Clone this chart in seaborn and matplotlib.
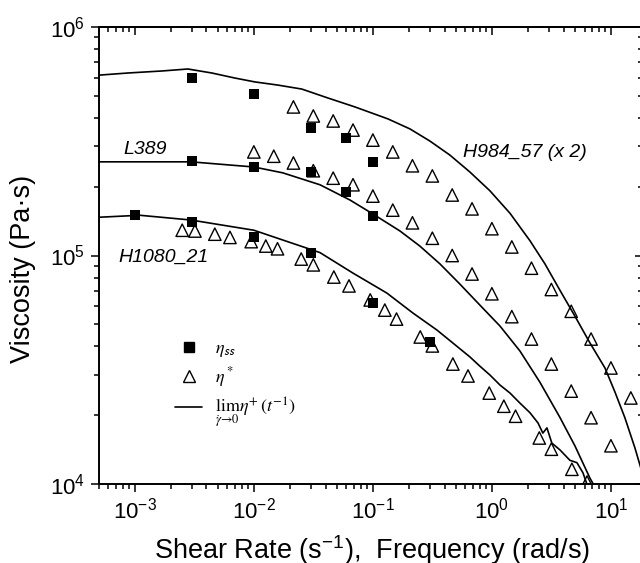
import matplotlib.pyplot as plt
import pandas as pd
import seaborn as sns
from matplotlib.lines import Line2D

# steady shear viscosity (filled squares)
ss_rate_h984 = [0.003, 0.01, 0.03, 0.06, 0.1]
ss_eta_h984 = [6.0e5, 5.1e5, 3.6e5, 3.27e5, 2.57e5]
ss_rate_l389 = [0.003, 0.01, 0.03, 0.06, 0.1]
ss_eta_l389 = [2.6e5, 2.44e5, 2.32e5, 1.9e5, 1.49e5]
ss_rate_h1080 = [0.001, 0.003, 0.01, 0.03, 0.1, 0.3]
ss_eta_h1080 = [1.5e5, 1.4e5, 1.2e5, 1.03e5, 6.2e4, 4.18e4]

# complex viscosity (open triangles)
freq_h984 = [0.0215, 0.0316, 0.0464, 0.0681, 0.1, 0.147, 0.215, 0.316, 0.464,
             0.681, 1.0, 1.47, 2.15, 3.16, 4.64, 6.81, 10.0, 14.7]
eta_h984 = [4.47e5, 4.08e5, 3.88e5, 3.54e5, 3.20e5, 2.84e5, 2.47e5, 2.23e5, 1.84e5,
            1.60e5, 1.31e5, 1.09e5, 8.8e4, 7.1e4, 5.7e4, 4.31e4, 3.22e4, 2.38e4]
freq_l389 = [0.01, 0.0147, 0.0215, 0.0316, 0.0464, 0.0681, 0.1, 0.147, 0.215, 0.316,
             0.464, 0.681, 1.0, 1.47, 2.15, 3.16, 4.64, 6.81, 10.0]
eta_l389 = [2.84e5, 2.72e5, 2.54e5, 2.35e5, 2.18e5, 2.04e5, 1.82e5, 1.58e5, 1.39e5, 1.19e5,
            1.00e5, 8.3e4, 6.8e4, 5.4e4, 4.31e4, 3.35e4, 2.55e4, 1.95e4, 1.47e4]
freq_h1080 = [0.0025, 0.0032, 0.0047, 0.0063, 0.0095, 0.0126, 0.0158, 0.025, 0.0316,
              0.047, 0.063, 0.095, 0.126, 0.158, 0.25, 0.316, 0.47, 0.63, 0.95, 1.26,
              1.58, 2.5, 3.16, 4.7, 6.3]
eta_h1080 = [1.29e5, 1.28e5, 1.24e5, 1.20e5, 1.15e5, 1.10e5, 1.07e5, 9.65e4, 9.1e4,
             8.05e4, 7.36e4, 6.39e4, 5.77e4, 5.27e4, 4.40e4, 4.02e4, 3.35e4, 2.97e4, 2.50e4, 2.19e4,
             1.98e4, 1.59e4, 1.42e4, 1.16e4, 1.02e4]

# transient viscosity limit, lim eta+(1/t) (solid lines)
t_h984 = [5.08e-4, 8.73e-4, 1.69e-3, 2.79e-3, 4.44e-3, 6.92e-3, 0.0102, 0.0159, 0.0253,
          0.0419, 0.0706, 0.134, 0.205, 0.301, 0.444, 0.653, 0.962, 1.42, 2.09, 2.79,
          3.72, 4.98, 6.67, 8.91, 10.8, 13.1, 15.9, 18.6]
lim_h984 = [6.16e5, 6.29e5, 6.42e5, 6.55e5, 6.29e5, 5.98e5, 5.75e5, 5.57e5, 5.35e5,
            4.89e5, 4.47e5, 3.96e5, 3.58e5, 3.17e5, 2.75e5, 2.32e5, 1.92e5, 1.53e5, 1.16e5, 9.19e4,
            7.06e4, 5.43e4, 4.14e4, 3.22e4, 2.53e4, 1.95e4, 1.44e4, 1.09e4]
t_l389 = [4.97e-4, 2.96e-3, 0.01, 0.0175, 0.0359, 0.0641, 0.1, 0.169, 0.248, 0.366,
          0.538, 0.792, 1.17, 1.72, 2.53, 3.72, 4.98, 6.67, 7.34]
lim_l389 = [2.57e5, 2.57e5, 2.44e5, 2.30e5, 2.04e5, 1.75e5, 1.52e5, 1.28e5, 1.10e5, 9.19e4,
            7.50e4, 6.07e4, 4.91e4, 3.82e4, 2.79e4, 1.96e4, 1.47e4, 1.06e4, 9.7e3]
t_h1080 = [4.97e-4, 1.1e-3, 2.96e-3, 0.01, 0.0359, 0.0679, 0.131, 0.217, 0.345, 0.47,
           0.653, 0.792, 0.962, 1.17, 1.42, 1.72, 2.09, 2.44, 2.68, 2.90,
           3.19, 3.73, 4.52, 5.18, 5.82, 6.28]
lim_h1080 = [1.47e5, 1.50e5, 1.43e5, 1.29e5, 1.03e5, 8.38e4, 6.85e4, 5.6e4, 4.72e4, 4.14e4,
             3.60e4, 3.28e4, 3.00e4, 2.71e4, 2.50e4, 2.26e4, 2.05e4, 1.85e4, 1.67e4, 1.76e4,
             1.51e4, 1.41e4, 1.27e4, 1.24e4, 1.12e4, 1.0e4]

sns.set_style('ticks')
plt.rcParams['font.family'] = ['Liberation Sans', 'DejaVu Sans']
plt.rcParams['mathtext.fontset'] = 'stix'
plt.rcParams['axes.linewidth'] = 1.4
for key in ['text.color', 'axes.labelcolor', 'axes.edgecolor', 'xtick.color', 'ytick.color']:
    plt.rcParams[key] = 'black'

curves = pd.concat([
    pd.DataFrame({'rate': t_h984, 'eta': lim_h984, 'sample': 'H984_57'}),
    pd.DataFrame({'rate': t_l389, 'eta': lim_l389, 'sample': 'L389'}),
    pd.DataFrame({'rate': t_h1080, 'eta': lim_h1080, 'sample': 'H1080_21'}),
])
squares = pd.DataFrame({'rate': ss_rate_h984 + ss_rate_l389 + ss_rate_h1080,
                        'eta': ss_eta_h984 + ss_eta_l389 + ss_eta_h1080})
triangles = pd.DataFrame({'rate': freq_h984 + freq_l389 + freq_h1080,
                          'eta': eta_h984 + eta_l389 + eta_h1080})

fig = plt.figure(figsize=(6.4, 5.63), dpi=100)
ax = fig.add_axes([99 / 640, 79 / 563, 544 / 640, 457 / 563])

sns.lineplot(data=curves, x='rate', y='eta', units='sample', estimator=None, sort=False,
             color='black', lw=1.2, ax=ax)
sns.scatterplot(data=triangles, x='rate', y='eta', marker='^', s=80, facecolors='none',
                edgecolor='black', linewidth=1.0, ax=ax)
sns.scatterplot(data=squares, x='rate', y='eta', marker='s', s=45, color='black',
                edgecolor='black', linewidth=0, ax=ax)

ax.set_xscale('log')
ax.set_yscale('log')
ax.set_xlim(5e-4, 18.6)
ax.set_ylim(1e4, 1e6)

ax.tick_params(which='both', direction='out', top=False, right=False, width=1.1,
               labelsize=16, pad=4)
ax.tick_params(which='major', length=6)
ax.tick_params(which='minor', length=3.5)

top = ax.secondary_xaxis('top')
top.tick_params(which='both', direction='in', labeltop=False, width=1.1)
top.tick_params(which='major', length=6)
top.tick_params(which='minor', length=3.5)
right = ax.secondary_yaxis('right')
right.tick_params(which='both', direction='in', labelright=False, width=1.1)
right.tick_params(which='major', length=6)
right.tick_params(which='minor', length=3.5)

ax.set_xlabel(r'Shear Rate (s$\mathdefault{^{-1}}$),  Frequency (rad/s)', fontsize=19.5)
ax.set_ylabel('Viscosity (Pa·s)', fontsize=19.5)
ax.xaxis.set_label_coords(0.502, -0.108)
ax.yaxis.set_label_coords(-0.115, 0.47)

ax.text(0.044, 0.731, 'L389', transform=ax.transAxes, fontsize=14, style='italic', va='center')
ax.text(0.035, 0.497, 'H1080_21', transform=ax.transAxes, fontsize=14, style='italic', va='center')
ax.text(0.669, 0.726, 'H984_57 (x 2)', transform=ax.transAxes, fontsize=14, style='italic',
        va='center')

handles = [
    Line2D([], [], marker='s', ls='none', color='black', ms=6.5),
    Line2D([], [], marker='^', ls='none', mfc='none', mec='black', ms=8.5, mew=1.0),
    Line2D([], [], color='black', lw=1.2),
]
labels = [r'$\eta_{\mathsf{ss}}$', r'$\eta^*$', r'$\lim_{\dot{\gamma}\rightarrow 0}\eta^{+}(t^{-1})$']
ax.legend(handles, labels, loc='upper left', bbox_to_anchor=(0.14, 0.315), frameon=False,
          prop={'size': 13, 'math_fontfamily': 'stix'}, handlelength=1.5, handletextpad=0.7,
          borderpad=0, borderaxespad=0, labelspacing=0.35)

fig.savefig('out.png', dpi=100)
